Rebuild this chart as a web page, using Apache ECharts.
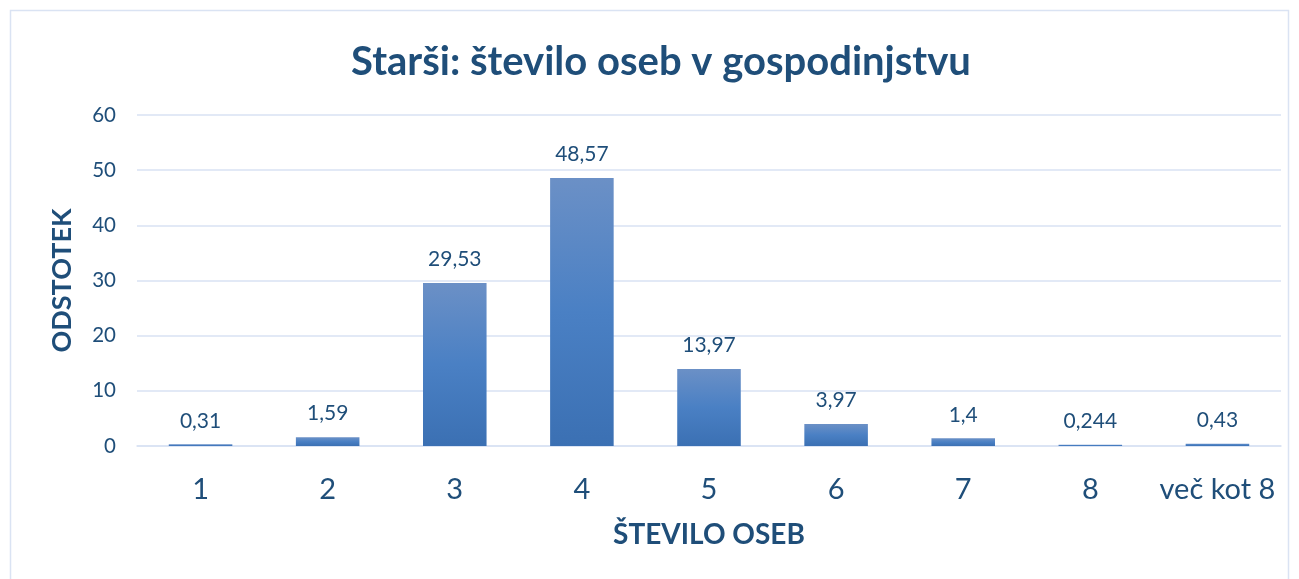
<!DOCTYPE html>
<html>
<head>
<meta charset="utf-8">
<script src="https://cdn.jsdelivr.net/npm/echarts@6/dist/echarts.min.js"></script>
<style>
  html, body { margin: 0; padding: 0; background: #fff; }
  #main { width: 1299px; height: 579px; }
</style>
</head>
<body>
<div id="main"></div>
<script>
const categories = ["1", "2", "3", "4", "5", "6", "7", "8", "več kot 8"];
const values = [0.31, 1.59, 29.53, 48.57, 13.97, 3.97, 1.4, 0.244, 0.43];

const textColor = "#1f4e79";
const font = "Lato, 'Open Sans', sans-serif";

const chart = echarts.init(document.getElementById("main"));

const option = {
  animation: false,
  backgroundColor: "#fff",
  title: {
    text: "Starši: število oseb v gospodinjstvu",
    left: 656,
    top: 37,
    textAlign: "center",
    textStyle: { color: textColor, fontSize: 40, fontWeight: "bold", fontFamily: font },
  },
  graphic: [
    {
      type: "rect",
      shape: { x: 10.5, y: 10.5, width: 1278, height: 600 },
      style: { fill: "none", stroke: "#dae3f3", lineWidth: 1.5 },
      silent: true,
    },
  ],
  grid: { left: 137, right: 18, top: 115, bottom: 133 },
  xAxis: {
    type: "category",
    data: categories,
    name: "ŠTEVILO OSEB",
    nameLocation: "middle",
    nameGap: 75,
    nameTextStyle: { color: textColor, fontSize: 28, fontWeight: "bold", fontFamily: font },
    axisLine: { lineStyle: { color: "#d9e2f3", width: 1.5 } },
    axisTick: { show: false },
    axisLabel: { color: textColor, fontSize: 29, fontFamily: font, margin: 29, interval: 0 },
  },
  yAxis: {
    type: "value",
    min: 0,
    max: 60,
    interval: 10,
    name: "ODSTOTEK",
    nameLocation: "middle",
    nameGap: 61,
    nameTextStyle: { color: textColor, fontSize: 27, fontWeight: "bold", fontFamily: font },
    axisLabel: { color: textColor, fontSize: 20.5, fontFamily: font, margin: 21 },
    splitLine: { lineStyle: { color: "#d9e2f3", width: 1.5 } },
  },
  series: [
    {
      type: "bar",
      data: values,
      barWidth: "50%",
      itemStyle: {
        color: new echarts.graphic.LinearGradient(0, 0, 0, 1, [
          { offset: 0, color: "#6b90c6" },
          { offset: 0.5, color: "#4a80c4" },
          { offset: 1, color: "#3b70b3" },
        ]),
      },
      label: {
        show: true,
        position: "top",
        distance: 13,
        color: textColor,
        fontSize: 21,
        fontFamily: font,
        formatter: (p) => String(p.value).replace(".", ","),
      },
    },
  ],
};

chart.setOption(option);
</script>
</body>
</html>
